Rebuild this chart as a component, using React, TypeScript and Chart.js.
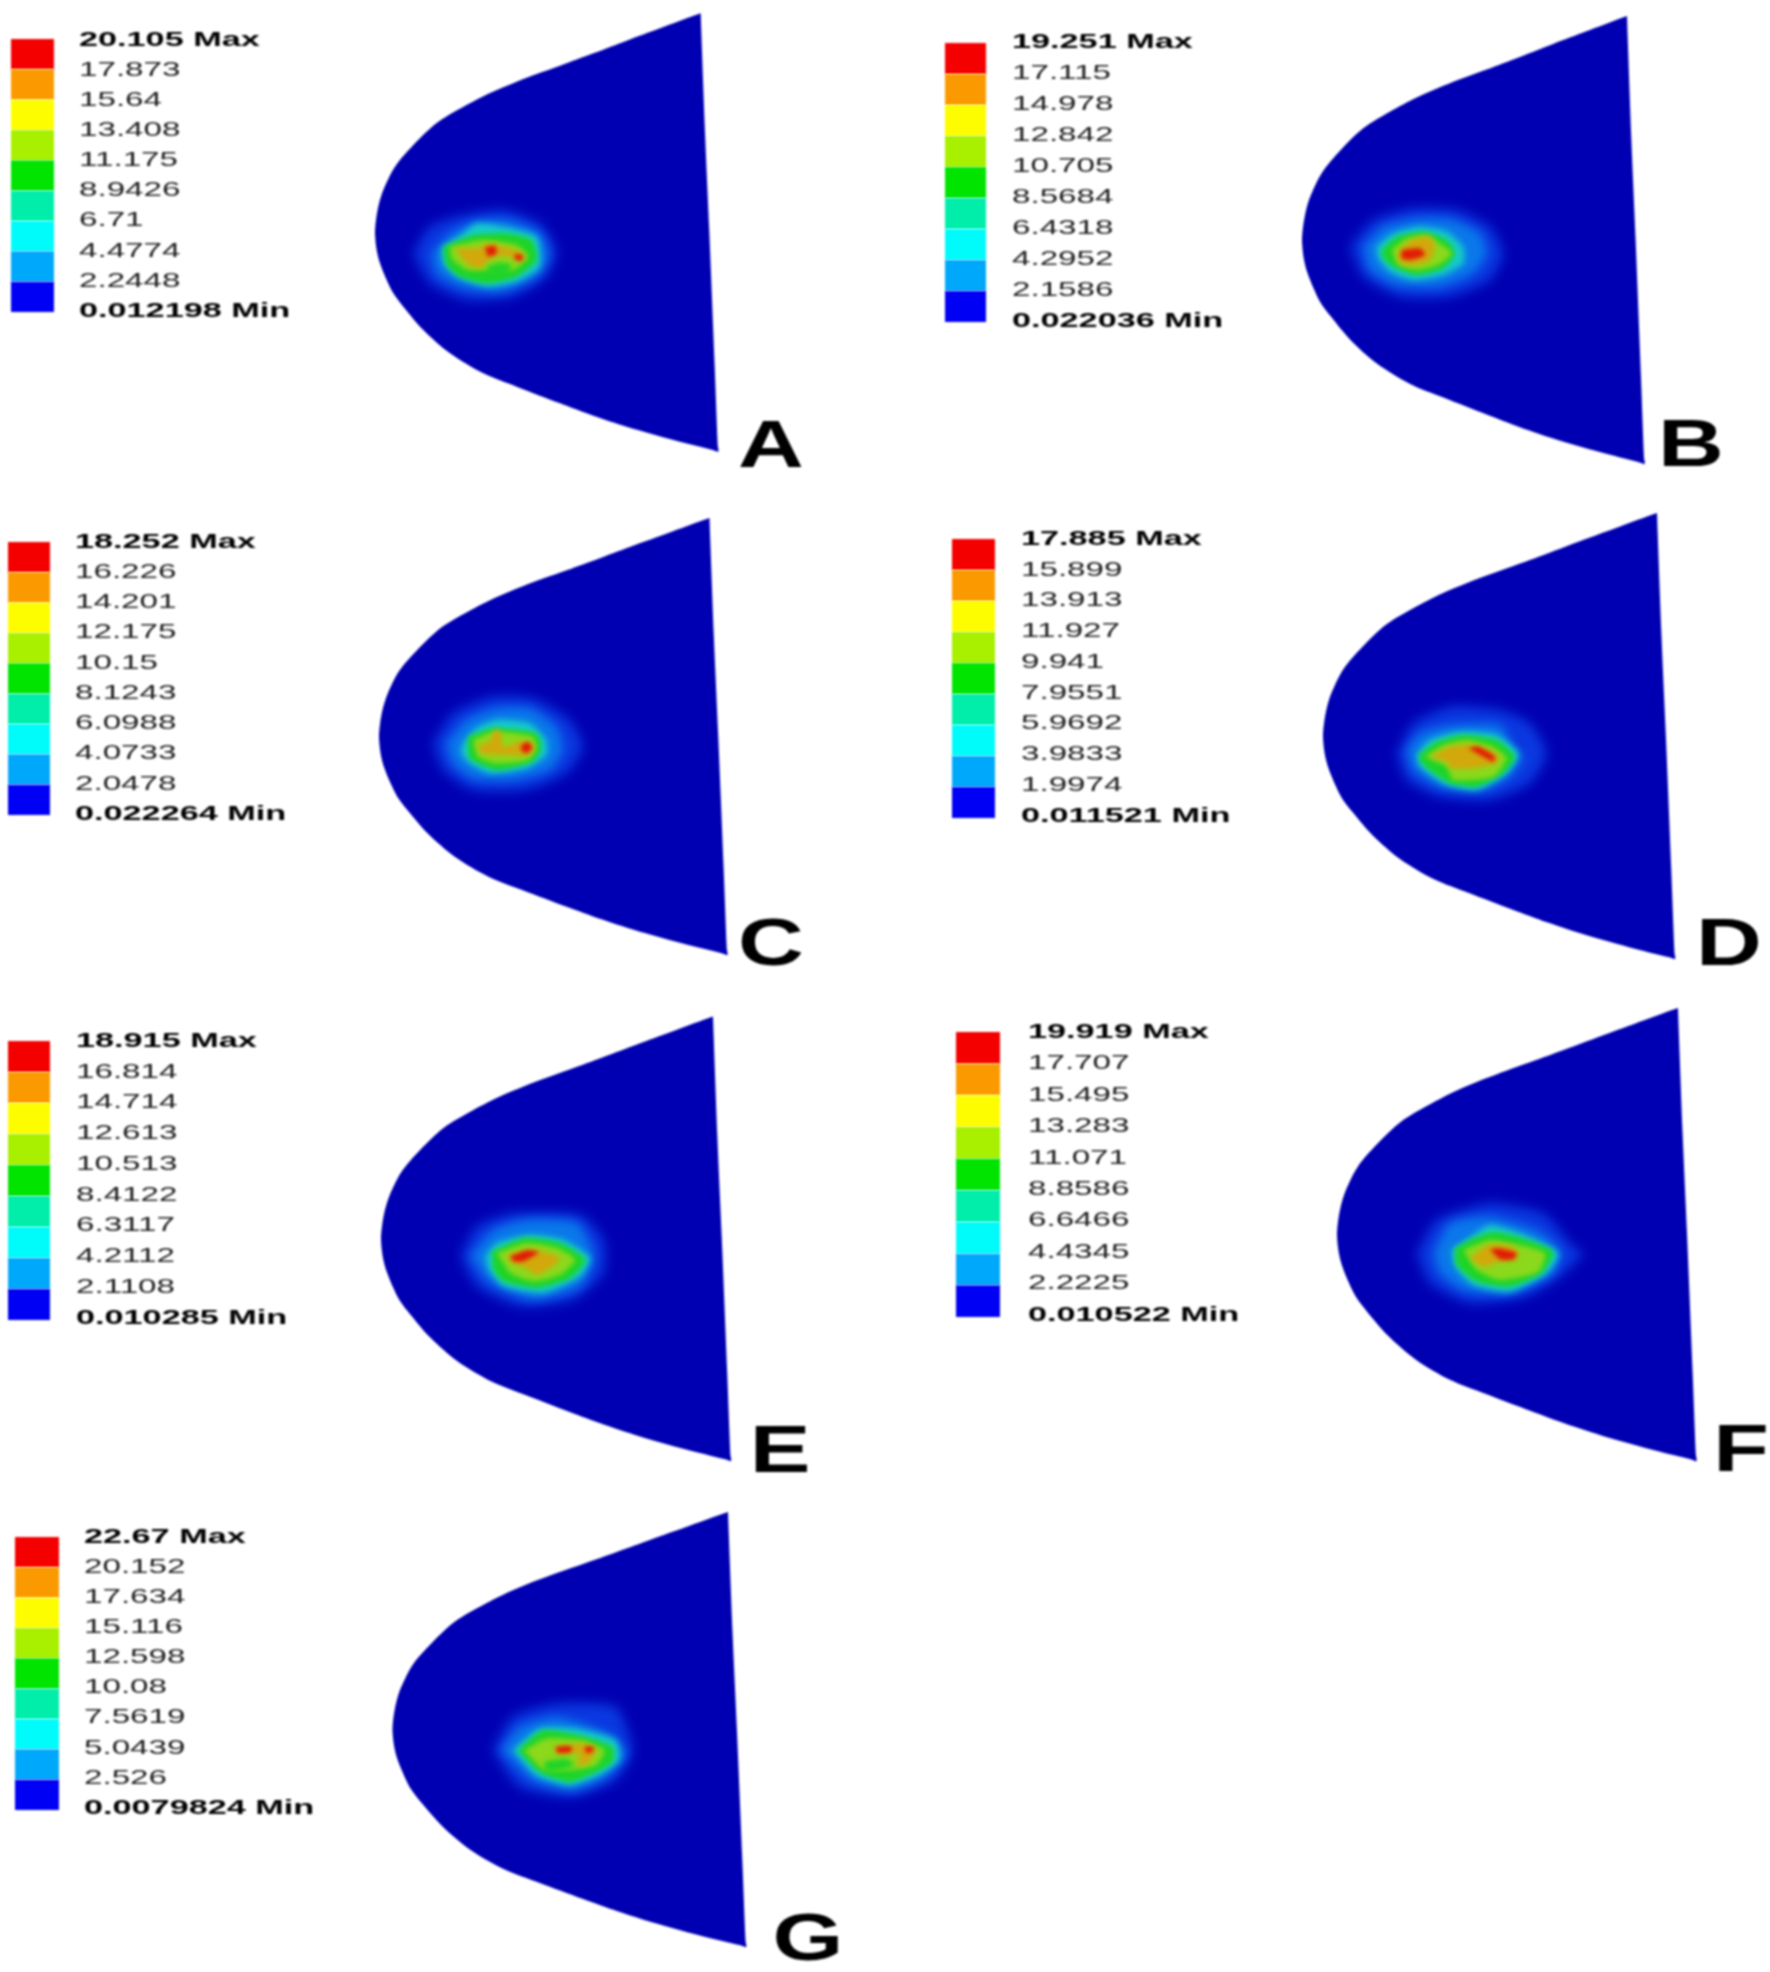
import React, { useEffect, useRef } from "react";
import { Chart, registerables } from "chart.js";

const W = 1770;
const H = 1972;
const FONT = '"Liberation Sans", Arial, sans-serif';

const panelNames = ["A", "B", "C", "D", "E", "F", "G"];

const labelsA = ["20.105 Max", "17.873", "15.64", "13.408", "11.175", "8.9426", "6.71", "4.4774", "2.2448", "0.012198 Min"];
const labelsB = ["19.251 Max", "17.115", "14.978", "12.842", "10.705", "8.5684", "6.4318", "4.2952", "2.1586", "0.022036 Min"];
const labelsC = ["18.252 Max", "16.226", "14.201", "12.175", "10.15", "8.1243", "6.0988", "4.0733", "2.0478", "0.022264 Min"];
const labelsD = ["17.885 Max", "15.899", "13.913", "11.927", "9.941", "7.9551", "5.9692", "3.9833", "1.9974", "0.011521 Min"];
const labelsE = ["18.915 Max", "16.814", "14.714", "12.613", "10.513", "8.4122", "6.3117", "4.2112", "2.1108", "0.010285 Min"];
const labelsF = ["19.919 Max", "17.707", "15.495", "13.283", "11.071", "8.8586", "6.6466", "4.4345", "2.2225", "0.010522 Min"];
const labelsG = ["22.67 Max", "20.152", "17.634", "15.116", "12.598", "10.08", "7.5619", "5.0439", "2.526", "0.0079824 Min"];
const panelLabels = [labelsA, labelsB, labelsC, labelsD, labelsE, labelsF, labelsG];

const swatchColors = ["#f50000", "#fb9a00", "#fdfd00", "#a8f000", "#00e400", "#00eeaa", "#00fbfb", "#00a8fb", "#0000f5"];

// legend geometry, page pixels
const swatchX0 = [11, 945, 8, 952, 8, 956, 15];
const swatchX1 = [54, 986, 50, 995, 50, 1000, 59];
const swatchY0 = [39, 43, 542, 539, 1041, 1032, 1537];
const swatchY1 = [312, 322, 815, 818, 1320, 1317, 1810];
const labelX = [79, 1012, 75, 1021, 76, 1028, 84];
const labelY0 = [40, 42, 542, 539, 1041, 1032, 1537];
const labelY1 = [311, 321, 814, 816, 1318, 1315, 1808];

// panel letters
const letterX = [771, 1691, 771, 1729, 780, 1741, 808];
const letterY = [449, 448, 947, 947, 1454, 1453, 1942];

// outline of the shape as read in panel A
const outlineX = [1022, 1005, 900, 800, 700, 600, 530, 470, 390, 309, 230, 160, 105, 70, 56, 48, 45, 50, 60, 80, 100, 130, 190, 270, 370, 470, 600, 700, 800, 940, 1058, 1075, 1073, 1064, 1048, 1035, 1024, 1022];
const outlineY = [40, 46, 85, 122, 160, 197, 222, 245, 279, 321, 369, 435, 500, 570, 615, 660, 700, 750, 790, 840, 880, 920, 990, 1060, 1120, 1160, 1210, 1247, 1280, 1320, 1350, 1355, 1335, 1100, 700, 400, 100, 40];

// anchors of each shape, page pixels
const leftX = [375, 1302, 379, 1323, 381, 1337, 392.5];
const topX = [700.7, 1627, 709.5, 1657, 713, 1678, 728];
const topY = [13.3, 16, 518, 513, 1016.5, 1008, 1512];
const bottomY = [451.7, 464, 955, 959, 1461, 1461, 1947];

const blobColors = ["#0a38e0", "#0a78ea", "#16ccc8", "#1ed428", "#8cd81c", "#d2a80c", "#e21c06"];
const blobBlur = [6, 5, 3, 2.5, 2.5, 2.5, 2];
const blobOriginX = [400, 1340, 413, 1390, 447, 1410, 476];
const blobOriginY = [190, 190, 680, 690, 1193, 1190, 1687];

const blobA: [number, number[]][] = [
  [0, [40,190, 90,110, 190,75, 310,60, 420,100, 470,180, 440,260, 340,320, 200,330, 90,280]],
  [1, [95,190, 150,130, 220,95, 320,90, 420,130, 445,200, 410,260, 300,305, 180,290, 110,250]],
  [2, [125,175, 190,130, 230,100, 310,110, 410,140, 420,230, 350,275, 260,290, 170,260, 130,220]],
  [3, [130,170, 220,135, 320,130, 395,150, 410,210, 350,260, 260,280, 180,260, 140,225]],
  [4, [150,170, 250,150, 350,165, 385,200, 340,240, 270,240, 200,240, 155,205]],
  [5, [165,175, 230,175, 270,160, 310,170, 370,190, 365,215, 330,200, 280,200, 240,235, 200,220]],
  [3, [262,228, 300,218, 335,226, 320,250, 270,250]],
  [6, [255,172, 285,168, 290,190, 265,200]],
  [6, [345,192, 368,196, 366,212, 345,208]],
];
const blobB: [number, number[]][] = [
  [0, [30,170, 100,90, 220,55, 350,60, 450,110, 490,190, 450,270, 330,320, 180,320, 70,260]],
  [1, [70,170, 130,110, 240,85, 340,90, 420,130, 440,190, 400,250, 300,290, 170,285, 90,240]],
  [2, [110,170, 160,130, 240,110, 320,125, 370,170, 370,220, 310,255, 220,270, 150,245, 115,205]],
  [3, [125,180, 170,140, 250,125, 320,150, 345,190, 310,235, 230,255, 160,230, 130,205]],
  [4, [155,180, 200,145, 260,135, 300,160, 335,190, 295,225, 230,240, 175,225]],
  [5, [175,185, 215,150, 270,140, 285,175, 265,215, 200,225, 175,210]],
  [6, [185,180, 240,175, 255,195, 210,210, 185,205]],
];
const blobC: [number, number[]][] = [
  [0, [60,190, 120,100, 240,50, 360,55, 470,120, 510,200, 460,280, 340,330, 180,330, 90,270]],
  [1, [100,190, 160,120, 250,85, 350,85, 430,140, 450,210, 410,270, 300,300, 180,295, 120,250]],
  [2, [150,190, 190,145, 250,120, 350,130, 400,180, 400,225, 340,265, 230,280, 170,250, 145,220]],
  [3, [165,170, 240,145, 370,160, 385,205, 360,245, 250,270, 170,235]],
  [4, [180,180, 240,155, 360,170, 370,205, 345,240, 250,250, 195,230]],
  [5, [195,195, 230,185, 245,150, 262,155, 270,200, 320,185, 355,190, 365,205, 345,225, 270,225, 205,220]],
  [6, [325,195, 345,185, 358,205, 340,220, 325,210]],
];
const blobD: [number, number[]][] = [
  [0, [20,190, 70,100, 180,50, 330,60, 420,100, 470,190, 420,280, 300,330, 150,320, 50,270]],
  [1, [50,180, 90,130, 180,105, 330,105, 370,170, 400,200, 360,260, 280,300, 150,290, 70,240]],
  [2, [80,195, 120,150, 210,125, 320,135, 385,190, 350,250, 260,300, 170,285, 90,230]],
  [3, [85,195, 140,155, 220,135, 320,150, 375,200, 340,250, 260,290, 180,280, 100,225]],
  [4, [105,200, 160,165, 230,150, 310,170, 350,205, 310,260, 190,270, 170,230]],
  [5, [120,200, 180,170, 250,165, 325,195, 320,220, 250,235, 180,235, 170,215]],
  [6, [235,175, 265,170, 315,200, 310,215, 270,195]],
];
const blobE: [number, number[]][] = [
  [0, [40,190, 90,100, 200,60, 400,65, 470,140, 470,240, 380,320, 220,340, 90,280]],
  [1, [70,190, 140,110, 240,80, 390,90, 440,190, 400,280, 260,320, 130,270]],
  [2, [115,190, 150,150, 250,125, 350,140, 430,195, 400,250, 290,300, 170,280, 125,230]],
  [3, [135,175, 230,135, 340,150, 415,200, 370,255, 270,285, 170,265, 140,230]],
  [4, [150,180, 240,150, 330,165, 385,200, 340,245, 260,265, 190,240]],
  [5, [180,185, 260,170, 340,195, 310,225, 270,245, 235,225, 190,205]],
  [6, [190,190, 240,172, 275,178, 230,205, 200,205]],
];
const blobF: [number, number[]][] = [
  [0, [20,190, 80,90, 240,40, 400,70, 490,170, 520,190, 450,260, 350,320, 180,340, 60,280]],
  [1, [70,190, 120,100, 240,80, 380,120, 450,180, 430,250, 300,310, 160,300, 90,250]],
  [2, [125,180, 190,135, 240,105, 330,130, 445,190, 410,250, 300,305, 190,285, 135,230]],
  [3, [135,175, 190,145, 250,125, 340,145, 430,185, 395,250, 300,290, 200,275, 140,225]],
  [4, [160,180, 240,150, 330,165, 405,190, 385,245, 270,270, 200,240]],
  [5, [180,205, 235,165, 310,170, 325,205, 270,215, 220,230]],
  [6, [240,178, 265,175, 320,190, 310,208, 270,208]],
];
const blobG: [number, number[]][] = [
  [0, [50,190, 110,90, 240,50, 420,60, 470,190, 420,280, 290,330, 130,300]],
  [1, [75,190, 130,120, 240,90, 400,140, 450,200, 390,270, 290,310, 170,280]],
  [2, [110,190, 190,125, 300,125, 420,160, 430,220, 370,265, 280,295, 180,265]],
  [3, [125,190, 200,130, 310,145, 410,180, 410,225, 350,260, 280,285, 190,255]],
  [4, [145,190, 210,155, 320,160, 385,190, 360,235, 280,250, 200,245]],
  [3, [205,225, 270,215, 295,235, 245,250, 210,250]],
  [5, [235,180, 320,170, 360,185, 335,230, 305,235, 310,200, 240,198]],
  [6, [240,180, 285,178, 285,195, 245,197]],
  [6, [328,178, 355,182, 345,197, 328,195]],
];
const panelBlobs = [blobA, blobB, blobC, blobD, blobE, blobF, blobG];

const shapeColor = "#0000b2";

function polygon(points: { x: number; y: number }[], color: string, blur: number, tension: number) {
  return {
    data: points,
    showLine: true,
    fill: "shape",
    backgroundColor: color,
    borderColor: color,
    borderWidth: 0,
    pointRadius: 0,
    tension,
    blur,
  };
}

function buildDatasets() {
  const sets: any[] = [];
  panelNames.forEach((_, p) => {
    const sx = (topX[p] - leftX[p]) / ((1022 - 45) / 3);
    const sy = (bottomY[p] - topY[p]) / ((1355 - 40) / 3);
    sets.push(
      polygon(
        outlineX.map((v, i) => ({
          x: leftX[p] + ((v - 45) / 3) * sx,
          y: topY[p] + ((outlineY[i] - 40) / 3) * sy,
        })),
        shapeColor,
        1.2,
        0.3
      )
    );
    panelBlobs[p].forEach(([level, flat]) => {
      const pts: { x: number; y: number }[] = [];
      for (let i = 0; i < flat.length; i += 2) {
        pts.push({ x: blobOriginX[p] + flat[i] / 3, y: blobOriginY[p] + flat[i + 1] / 3 });
      }
      pts.push(pts[0]);
      sets.push(polygon(pts, blobColors[level], blobBlur[level], 0.2));
    });
    const cell = (swatchY1[p] - swatchY0[p]) / swatchColors.length;
    swatchColors.forEach((c, i) => {
      const a = swatchY0[p] + i * cell;
      const b = a + cell;
      sets.push(
        polygon(
          [
            { x: swatchX0[p], y: a },
            { x: swatchX1[p], y: a },
            { x: swatchX1[p], y: b },
            { x: swatchX0[p], y: b },
            { x: swatchX0[p], y: a },
          ],
          c,
          1.2,
          0
        )
      );
    });
  });
  sets.forEach((s, i) => (s.order = -i));
  return sets;
}

const blurPlugin = {
  id: "layerBlur",
  beforeDatasetDraw(chart: any, args: any) {
    const b = chart.data.datasets[args.index].blur;
    chart.ctx.filter = b ? `blur(${b}px)` : "none";
  },
  afterDatasetDraw(chart: any) {
    chart.ctx.filter = "none";
  },
};

const textPlugin = {
  id: "panelText",
  afterDatasetsDraw(chart: any) {
    const { ctx, scales } = chart;
    const put = (s: string, x: number, y: number, font: string, stretch: number, color: string, blur: number) => {
      ctx.save();
      ctx.filter = `blur(${blur}px)`;
      ctx.font = font;
      ctx.fillStyle = color;
      ctx.textBaseline = "middle";
      ctx.textAlign = "left";
      ctx.translate(scales.x.getPixelForValue(x), scales.y.getPixelForValue(y));
      ctx.scale(stretch, 1);
      ctx.fillText(s, 0, 0);
      ctx.restore();
    };
    panelNames.forEach((name, p) => {
      const labels = panelLabels[p];
      const step = (labelY1[p] - labelY0[p]) / (labels.length - 1);
      labels.forEach((s, i) => {
        const bold = i === 0 || i === labels.length - 1;
        put(
          s,
          labelX[p],
          labelY0[p] + i * step,
          `${bold ? "bold " : ""}21px ${FONT}`,
          bold ? 1.63 : 1.58,
          bold ? "#000" : "#1c1c1c",
          0.9
        );
      });
      ctx.save();
      ctx.font = `bold 66px ${FONT}`;
      const w = ctx.measureText(name).width * 1.38;
      ctx.restore();
      put(name, letterX[p] - w / 2, letterY[p], `bold 66px ${FONT}`, 1.38, "#000", 0.8);
    });
  },
};

export default function App() {
  const ref = useRef<HTMLCanvasElement>(null);
  useEffect(() => {
    Chart.register(blurPlugin, ...registerables);
    const chart = new Chart(ref.current!, {
      type: "scatter",
      data: { datasets: buildDatasets() },
      options: {
        animation: false,
        responsive: false,
        maintainAspectRatio: false,
        layout: { padding: 0 },
        scales: {
          x: { type: "linear", min: 0, max: W, display: false },
          y: { type: "linear", min: 0, max: H, reverse: true, display: false },
        },
        plugins: { legend: { display: false }, tooltip: { enabled: false } },
        events: [],
      },
      plugins: [textPlugin],
    } as any);
    return () => {
      chart.destroy();
      Chart.unregister(blurPlugin);
    };
  }, []);
  return (
    <canvas
      ref={ref}
      width={W}
      height={H}
      style={{ position: "absolute", left: 0, top: 0, width: W, height: H, display: "block" }}
    />
  );
}
